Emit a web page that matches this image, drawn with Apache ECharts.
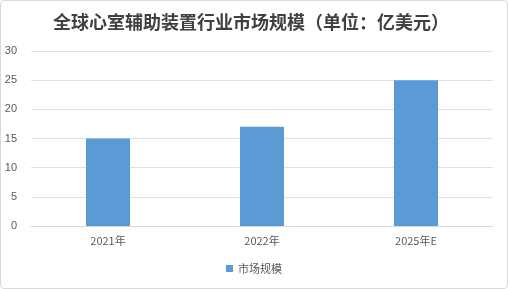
<!DOCTYPE html>
<html><head><meta charset="utf-8">
<script src="https://cdn.jsdelivr.net/npm/echarts@6/dist/echarts.min.js"></script>
<style>html,body{margin:0;padding:0;background:#fff}#c{width:508px;height:289px;box-sizing:border-box;border:1px solid #d9d9d9;border-radius:4px}</style>
</head><body><div id="c"></div>
<script>
const categories = ['2021年', '2022年', '2025年E'];
const marketSize = [15, 17, 25];
const yTicks = [0, 5, 10, 15, 20, 25, 30];
const chart = echarts.init(document.getElementById('c'));
chart.setOption({
  animation: false,
  title: {text: '全球心室辅助装置行业市场规模（单位：亿美元）', left: 47, top: 7,
    textStyle: {fontFamily: 'Noto Sans CJK SC', fontSize: 18, fontWeight: 'bold', color: '#404040'}},
  grid: {left: 30, right: 14, top: 50, bottom: 62},
  legend: {bottom: 9, left: 'center', itemWidth: 7, itemHeight: 7, icon: 'rect', itemGap: 5,
    textStyle: {fontFamily: 'Noto Sans CJK SC', fontSize: 11, color: '#595959'}},
  xAxis: {type: 'category', data: categories,
    axisLine: {lineStyle: {color: '#d9d9d9'}}, axisTick: {show: false},
    axisLabel: {color: '#595959', fontSize: 11, fontFamily: 'Noto Sans CJK SC', margin: 9}},
  yAxis: {type: 'value', min: yTicks[0], max: yTicks[yTicks.length-1], interval: 5,
    axisLine: {show: false}, axisTick: {show: false},
    axisLabel: {color: '#595959', fontSize: 11, fontFamily: 'Liberation Sans', margin: 14},
    splitLine: {lineStyle: {color: '#e0e0e0'}}},
  series: [{name: '市场规模', type: 'bar', data: marketSize, barWidth: 44,
    itemStyle: {color: '#5B9BD5'}}]
});
</script></body></html>
